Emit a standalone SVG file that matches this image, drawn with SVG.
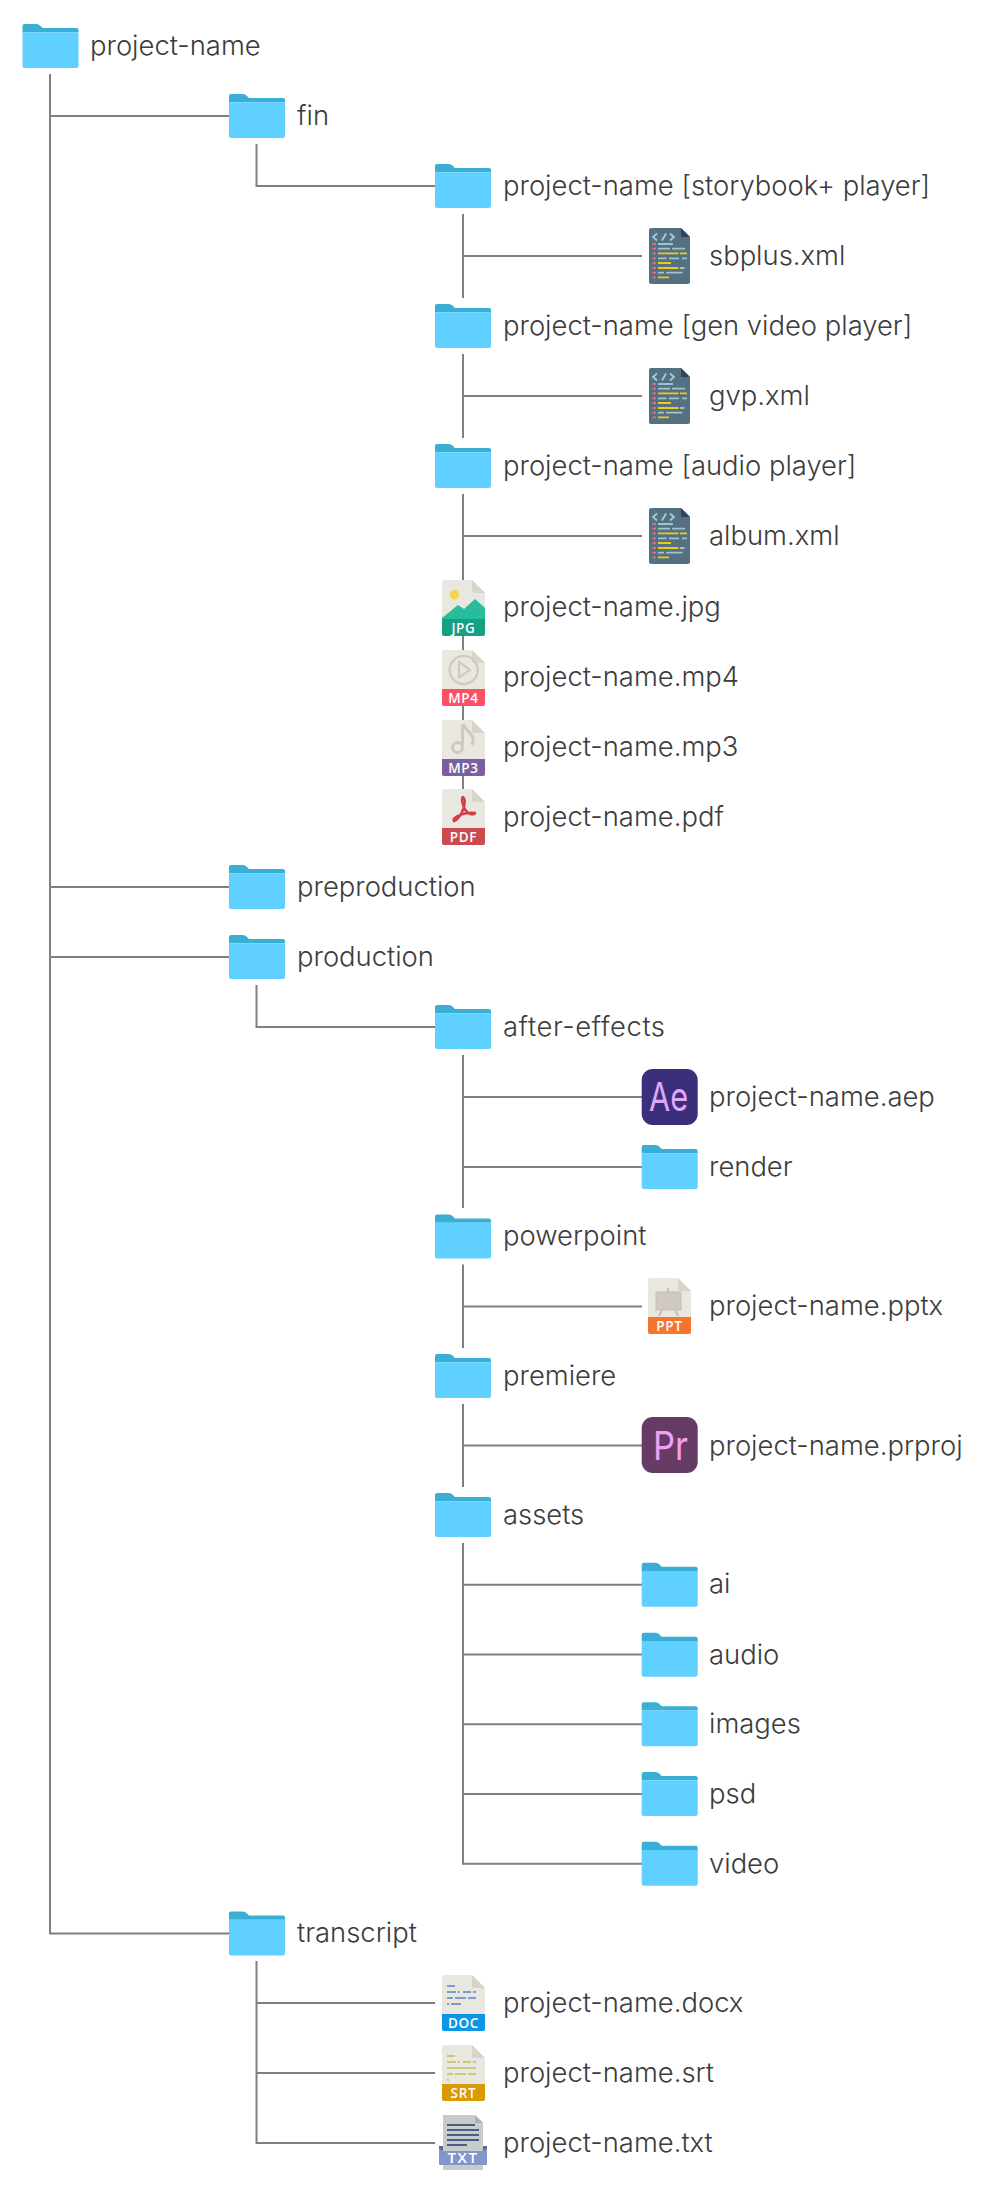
<svg xmlns="http://www.w3.org/2000/svg" xmlns:xlink="http://www.w3.org/1999/xlink" width="986" height="2190" viewBox="0 0 986 2190">
<style>
.lbl{font-family:Inter,"Noto Sans",sans-serif;font-weight:300;font-size:27.4px;fill:#3c3c3c}
.tag{font-family:"Open Sans","Noto Sans",sans-serif;font-weight:600;font-size:13.500px;fill:#fff;text-anchor:middle;letter-spacing:.7px}
.app{font-family:Inter,"Liberation Sans",sans-serif;font-weight:400;font-size:40px}
.conn{fill:none;stroke:#808080;stroke-width:2}
.page{fill:#e8e8e1}
.fold{fill:#d6d5c9}
</style>
<defs>
<g id="folder">
<path d="M0 8.300V2Q0 0 2 0H14Q16 0 17.500 1.500L20 4H54Q56 4 56 6V8.300Z" fill="#3aafd6"/>
<path d="M0 8.300H56V42Q56 44 54 44H2Q0 44 0 42Z" fill="#5fd0ff"/>
</g>
<g id="page">
<path class="page" d="M2 0H30L43 13V54Q43 56 41 56H2Q0 56 0 54V2Q0 0 2 0Z"/>
<path class="fold" d="M30 0L43 13H32Q30 13 30 11Z"/>
</g>
<path id="band" d="M0 39H43V54Q43 56 41 56H2Q0 56 0 54Z"/>
<g id="xml">
<path d="M2 0H32L41 9V54Q41 56 39 56H2Q0 56 0 54V2Q0 0 2 0Z" fill="#557080"/>
<path d="M32 0L41 9H32Z" fill="#2e4460"/>
<path d="M8 5.500L4 9L8 12.500M13 12.500L17 5.500M21 5.500L25 9L21 12.500" fill="none" stroke="#9dd0da" stroke-width="1.800"/>
<path d="M3.500 16H7M3.500 20.700H7M3.500 25.300H7M3.500 30.300H7M3.500 35H7M3.500 40H7M3.500 44.700H7M3.500 49.300H7" stroke="#f0686c" stroke-width="1.800"/>
<path d="M9 16H24M9 20.700H21M23 20.700H36M9 30.300H17.500M20 30.300H30M33 30.300H38M31 40H35.500M9 44.700H15M17 44.700H33.500" stroke="#9cc6cf" stroke-width="1.800"/>
<path d="M9 25.300H29.500M31 25.300H38M9 35H22M9 40H29.500M9 49.300H20" stroke="#f5c518" stroke-width="1.800"/>
</g>
</defs>

<g id="connectors" class="conn">
<path d="M50 74V1933.500H229M50 116H229M50 887H229M50 957H229"/>
<path d="M256.500 144V186H435M256.500 985V1027H435M256.500 1961V2143H435M256.500 2003H435M256.500 2073H435"/>
<path d="M463 214V298M463 256H642M463 354V438M463 396H642M463 494V790M463 536H642"/>
<path d="M463 1055V1208M463 1097H642M463 1167H642M463 1264.500V1348M463 1306.500H642M463 1404V1487M463 1445.500H642"/>
<path d="M463 1543V1863.700H642M463 1584.700H642M463 1654.500H642M463 1724.300H642M463 1794H642"/>
</g>

<g id="n-root"><use href="#folder" x="22.500" y="24"/><text class="lbl" x="90" y="54.500">project-name</text></g>
<g id="n-fin"><use href="#folder" x="229" y="94"/><text class="lbl" x="297" y="124.500" textLength="32">fin</text></g>
<g id="n-storybook"><use href="#folder" x="435" y="164"/><text class="lbl" x="503" y="194.500">project-name [storybook+ player]</text></g>
<g id="n-sbplus"><use href="#xml" x="649" y="228"/><text class="lbl" x="709" y="264.500">sbplus.xml</text></g>
<g id="n-genvideo"><use href="#folder" x="435" y="304"/><text class="lbl" x="503" y="334.500">project-name [gen video player]</text></g>
<g id="n-gvp"><use href="#xml" x="649" y="368"/><text class="lbl" x="709" y="404.500">gvp.xml</text></g>
<g id="n-audioplayer"><use href="#folder" x="435" y="444"/><text class="lbl" x="503" y="474.500">project-name [audio player]</text></g>
<g id="n-album"><use href="#xml" x="649" y="508"/><text class="lbl" x="709" y="544.500">album.xml</text></g>

<g id="n-jpg"><g transform="translate(442,580)"><use href="#page"/>
<path d="M0 39V38L16 25L22 29L33 19L43 28V39Z" fill="#27bc9a"/><circle cx="12.500" cy="14.700" r="4.700" fill="#f6d351"/>
<use href="#band" fill="#14a084"/><text class="tag" x="21.500" y="52.800">JPG</text></g>
<text class="lbl" x="503" y="616">project-name.jpg</text></g>
<g id="n-mp4"><g transform="translate(442,650)"><use href="#page"/>
<circle cx="21.700" cy="20" r="14" fill="none" stroke="#cfc8c3" stroke-width="2.200"/><path d="M17 12L28 20L17 27.500Z" fill="none" stroke="#cfc8c3" stroke-width="2.200"/>
<use href="#band" fill="#fb5166"/><text class="tag" x="21.500" y="52.800">MP4</text></g>
<text class="lbl" x="503" y="686">project-name.mp4</text></g>
<g id="n-mp3"><g transform="translate(442,720)"><use href="#page"/>
<circle cx="15.500" cy="27.500" r="5" fill="none" stroke="#cfc8c3" stroke-width="3"/><path d="M20.500 27V5" fill="none" stroke="#cfc8c3" stroke-width="3"/><path d="M21 4Q24 10 28 13Q33 18 30 25" fill="none" stroke="#cfc8c3" stroke-width="3"/>
<use href="#band" fill="#7a60a2"/><text class="tag" x="21.500" y="52.800">MP3</text></g>
<text class="lbl" x="503" y="756">project-name.mp3</text></g>
<g id="n-pdf"><g transform="translate(442,789)"><use href="#page"/>
<path d="M21 8Q24 10 22 18Q18 30 12 32Q10 29 18 26Q26 23 33 24Q33 26 28 25Q22 22 20 12Q20 8 21 8Z" fill="none" stroke="#d23d46" stroke-width="2.400"/>
<use href="#band" fill="#cb4a50"/><text class="tag" x="21.500" y="52.800">PDF</text></g>
<text class="lbl" x="503" y="826">project-name.pdf</text></g>

<g id="n-preproduction"><use href="#folder" x="229" y="865"/><text class="lbl" x="297" y="895.500">preproduction</text></g>
<g id="n-production"><use href="#folder" x="229" y="935"/><text class="lbl" x="297" y="965.500">production</text></g>
<g id="n-aftereffects"><use href="#folder" x="435" y="1005"/><text class="lbl" x="503" y="1035.700" textLength="162">after-effects</text></g>
<g id="n-aep"><rect x="641.700" y="1069" width="56" height="56" rx="11" fill="#3b2f7b"/><text class="app" x="668.500" y="1110.500" fill="#e0a8f8" text-anchor="middle" textLength="39" lengthAdjust="spacingAndGlyphs">Ae</text><text class="lbl" x="709" y="1105.500">project-name.aep</text></g>
<g id="n-render"><use href="#folder" x="641.700" y="1145"/><text class="lbl" x="709" y="1175.500">render</text></g>
<g id="n-powerpoint"><use href="#folder" x="435" y="1214.500"/><text class="lbl" x="503" y="1244.500">powerpoint</text></g>
<g id="n-pptx"><g transform="translate(648,1278)"><use href="#page"/>
<path d="M20 10V14" stroke="#c6c0bc" stroke-width="2"/><rect x="8" y="14" width="25" height="18" fill="#cfc8c3" stroke="#c6c0bc"/><path d="M14 32L11 38M27 32L30 38" stroke="#c6c0bc" stroke-width="2"/>
<use href="#band" fill="#f6752e"/><text class="tag" x="21.500" y="52.800">PPT</text></g>
<text class="lbl" x="709" y="1315">project-name.pptx</text></g>
<g id="n-premiere"><use href="#folder" x="435" y="1354"/><text class="lbl" x="503" y="1384.500">premiere</text></g>
<g id="n-prproj"><rect x="641.700" y="1417" width="56" height="56" rx="11" fill="#663b66"/><text class="app" x="670.500" y="1460" fill="#f2a0f6" text-anchor="middle" textLength="35" lengthAdjust="spacingAndGlyphs">Pr</text><text class="lbl" x="709" y="1454.500">project-name.prproj</text></g>
<g id="n-assets"><use href="#folder" x="435" y="1493"/><text class="lbl" x="503" y="1523.500">assets</text></g>
<g id="n-ai"><use href="#folder" x="641.700" y="1562.700"/><text class="lbl" x="709" y="1593.300">ai</text></g>
<g id="n-audio"><use href="#folder" x="641.700" y="1632.700"/><text class="lbl" x="709" y="1663.500">audio</text></g>
<g id="n-images"><use href="#folder" x="641.700" y="1702.300"/><text class="lbl" x="709" y="1732.700">images</text></g>
<g id="n-psd"><use href="#folder" x="641.700" y="1772"/><text class="lbl" x="709" y="1802.700">psd</text></g>
<g id="n-video"><use href="#folder" x="641.700" y="1841.700"/><text class="lbl" x="709" y="1872.500">video</text></g>
<g id="n-transcript"><use href="#folder" x="229" y="1911.500"/><text class="lbl" x="297" y="1942">transcript</text></g>
<g id="n-docx"><g transform="translate(442,1975)"><use href="#page"/>
<path d="M5 11H13M5 17H14M16 17H18M21 17H29M31 17H34M5 23H11M13 23H24M26 23H34M5 29H7M9 29H19" stroke="#7d9bd0" stroke-width="2"/>
<use href="#band" fill="#0c97e6"/><text class="tag" x="21.500" y="52.800">DOC</text></g>
<text class="lbl" x="503" y="2011.500">project-name.docx</text></g>
<g id="n-srt"><g transform="translate(442,2045)"><use href="#page"/>
<path d="M5 11H13M5 17H14M16 17H18M21 17H29M31 17H34M5 23H34M5 29H11M13 29H24M26 29H34M5 35H7" stroke="#cfc57c" stroke-width="2"/>
<use href="#band" fill="#d99a03"/><text class="tag" x="21.500" y="52.800">SRT</text></g>
<text class="lbl" x="503" y="2081.500">project-name.srt</text></g>
<g id="n-txt"><g transform="translate(439,2115)">
<path d="M4 0H36L44 8V54Q44 55 43 55H5Q4 55 4 54Z" fill="#c6cbcc"/><path d="M36 0L44 8H36Z" fill="#a4b4b6"/>
<path d="M8 10H36M8 15H40M8 20H40M8 25H40M8 30H28" stroke="#4e5d82" stroke-width="1.800"/>
<path d="M0 31H4V36H0ZM44 31H48V36H44Z" fill="#5b6c9a"/>
<path d="M0 33Q2 36 4 36H44Q46 36 48 33V49Q48 50 47 50H1Q0 50 0 49Z" fill="#8296cc"/>
<text class="tag" style="font-size:15px;letter-spacing:1.500px" x="24" y="48">TXT</text></g>
<text class="lbl" x="503" y="2151.500">project-name.txt</text></g>
</svg>
